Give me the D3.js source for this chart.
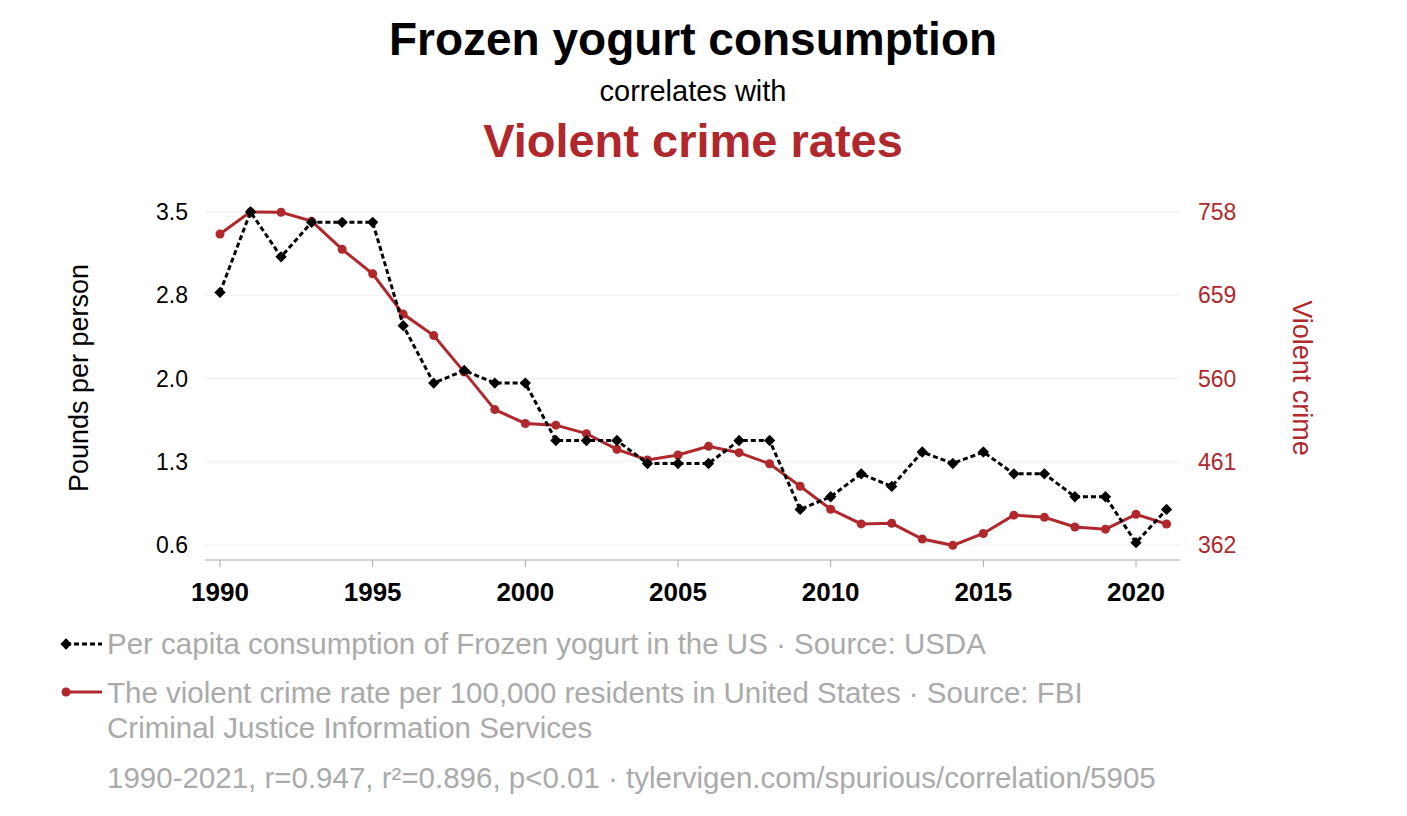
<!DOCTYPE html><html><head><meta charset="utf-8">
<script src="https://cdn.jsdelivr.net/npm/d3@7"></script>
<style>body{margin:0;background:#fff;font-family:"Liberation Sans",Arial,sans-serif}</style></head><body>
<svg id="c" width="1407" height="816"></svg>
<script>
const years=d3.range(1990,2022);
const yogurt=[2.80,3.5,3.11,3.41,3.41,3.41,2.51,2.01,2.12,2.01,2.01,1.51,1.51,1.51,1.31,1.31,1.31,1.51,1.51,0.91,1.02,1.22,1.11,1.41,1.31,1.41,1.22,1.22,1.02,1.02,0.62,0.91];
const crime=[731.8,758.2,757.7,747.1,713.6,684.5,636.6,611.0,567.6,523.0,506.5,504.5,494.4,475.8,463.2,469.0,479.3,471.8,458.6,431.9,404.5,387.1,387.8,369.1,361.6,375.7,397.5,394.9,383.4,380.8,398.5,387.0];
const leftTicks=[0.6,1.3,2.0,2.8,3.5];
const rightTicks=[362,461,560,659,758];
const xTicks=[1990,1995,2000,2005,2010,2015,2020];
const red="#b0282c";
const svg=d3.select("#c");
const x=d3.scaleLinear().domain([1990,2020]).range([220,1136]);
const yL=d3.scaleLinear().domain([0.6,3.5]).range([545,212]);
const yR=d3.scaleLinear().domain([362,758]).range([545,212]);
const t=(xx,yy,s,o)=>{const e=svg.append("text").attr("x",xx).attr("y",yy).text(s);for(const k in o)e.attr(k,o[k]);return e;};
t(693,55,"Frozen yogurt consumption",{"text-anchor":"middle","font-size":46,"font-weight":"bold"});
t(693,101,"correlates with",{"text-anchor":"middle","font-size":29});
t(693,157,"Violent crime rates",{"text-anchor":"middle","font-size":47,"font-weight":"bold",fill:red});
leftTicks.forEach((v,i)=>{const yy=yL(leftTicks[0]+i*(3.5-0.6)/4);
 svg.append("line").attr("x1",205).attr("x2",1180).attr("y1",yy).attr("y2",yy).attr("stroke","#eee");
 t(188,yy+8,v.toFixed(1),{"text-anchor":"end","font-size":23});});
rightTicks.forEach(v=>t(1198,yR(v)+8,v,{"font-size":23,fill:red}));
svg.append("line").attr("x1",205).attr("x2",1180).attr("y1",560).attr("y2",560).attr("stroke","#aaa");
xTicks.forEach(v=>{svg.append("line").attr("x1",x(v)).attr("x2",x(v)).attr("y1",560).attr("y2",567).attr("stroke","#aaa");
 t(x(v),601,v,{"text-anchor":"middle","font-size":26,"font-weight":"bold"});});
t(0,0,"Pounds per person",{transform:"translate(88,378) rotate(-90)","text-anchor":"middle","font-size":27});
t(0,0,"Violent crime",{transform:"translate(1293,378) rotate(90)","text-anchor":"middle","font-size":27,fill:red});
const lc=d3.line().x((d,i)=>x(years[i])).y(d=>yR(d));
svg.append("path").attr("d",lc(crime)).attr("fill","none").attr("stroke",red).attr("stroke-width",3);
svg.selectAll(".cr").data(crime).join("circle").attr("cx",(d,i)=>x(years[i])).attr("cy",d=>yR(d)).attr("r",4.5).attr("fill",red);
const ly=d3.line().x((d,i)=>x(years[i])).y(d=>yL(d));
svg.append("path").attr("d",ly(yogurt)).attr("fill","none").attr("stroke","#000").attr("stroke-width",3).attr("stroke-dasharray","5,3");
svg.selectAll(".yo").data(yogurt).join("rect").attr("x",-4).attr("y",-4).attr("width",8).attr("height",8)
 .attr("transform",(d,i)=>`translate(${x(years[i])},${yL(d)}) rotate(45)`).attr("fill","#000");
svg.append("line").attr("x1",66).attr("x2",102).attr("y1",644).attr("y2",644).attr("stroke","#000").attr("stroke-width",3).attr("stroke-dasharray","5,3");
svg.append("rect").attr("x",-4).attr("y",-4).attr("width",8).attr("height",8).attr("transform","translate(66,644) rotate(45)");
const lg={"font-size":29.5,fill:"#aaa"};
t(107,654,"Per capita consumption of Frozen yogurt in the US · Source: USDA",lg);
svg.append("line").attr("x1",66).attr("x2",102).attr("y1",692).attr("y2",692).attr("stroke",red).attr("stroke-width",3);
svg.append("circle").attr("cx",66).attr("cy",692).attr("r",4.5).attr("fill",red);
t(107,703,"The violent crime rate per 100,000 residents in United States · Source: FBI",lg);
t(107,738,"Criminal Justice Information Services",lg);
t(107,788,"1990-2021, r=0.947, r²=0.896, p<0.01 · tylervigen.com/spurious/correlation/5905",lg);
</script></body></html>
